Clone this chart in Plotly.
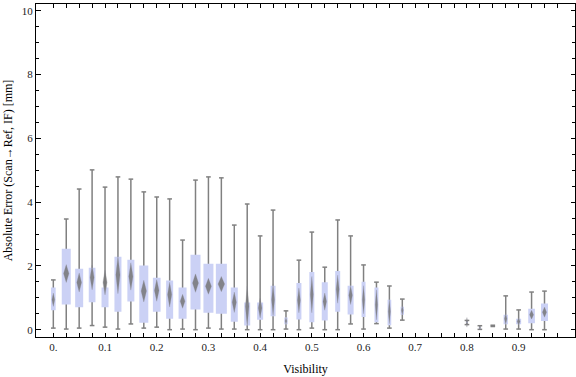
import plotly.graph_objects as go

# ---- data (visibility bins) ----
visibility = [0.0, 0.025, 0.05, 0.075, 0.1, 0.125, 0.15, 0.175, 0.2, 0.225,
              0.25, 0.275, 0.3, 0.325, 0.35, 0.375, 0.4, 0.425, 0.45, 0.475,
              0.5, 0.525, 0.55, 0.575, 0.6, 0.625, 0.65, 0.675,
              0.8, 0.825, 0.85, 0.875, 0.9, 0.925, 0.95]
whisker_low = [0.05, 0.02, 0.05, 0.13, 0.08, 0.02, 0.18, 0.05, 0.08, 0.00,
               0.02, 0.00, 0.05, 0.02, 0.02, 0.00, 0.00, 0.00, 0.02, 0.00,
               0.05, 0.00, 0.00, 0.18, 0.02, 0.19, 0.05, 0.30,
               0.16, 0.01, 0.10, 0.02, 0.02, 0.00, 0.00]
q1 = [0.61, 0.79, 0.70, 0.86, 0.70, 0.56, 0.88, 0.22, 0.56, 0.34,
      0.34, 0.63, 0.53, 0.50, 0.25, 0.13, 0.31, 0.42, 0.17, 0.32,
      0.23, 0.29, 0.56, 0.48, 0.40, 0.23, 0.14, 0.47,
      0.21, 0.04, 0.11, 0.17, 0.17, 0.20, 0.27]
q3 = [1.32, 2.54, 1.91, 1.94, 1.32, 2.29, 2.19, 2.01, 1.63, 1.54,
      1.32, 2.35, 2.07, 2.07, 1.32, 0.85, 0.85, 1.38, 0.38, 1.46,
      1.81, 1.49, 1.84, 1.38, 1.50, 1.32, 0.94, 0.72,
      0.25, 0.08, 0.13, 0.47, 0.34, 0.66, 0.82]
whisker_high = [1.56, 3.47, 4.41, 5.01, 4.47, 4.79, 4.72, 4.32, 4.16, 4.10,
                2.81, 4.69, 4.79, 4.76, 3.28, 3.94, 2.94, 3.75, 0.59, 2.18,
                3.06, 1.96, 3.44, 2.94, 2.03, 1.49, 1.37, 0.96,
                0.29, 0.125, 0.14, 1.06, 0.62, 1.18, 1.21]
mean = [0.94, 1.76, 1.48, 1.64, 1.48, 1.72, 1.67, 1.21, 1.23, 1.10,
        0.89, 1.46, 1.36, 1.43, 0.86, 0.73, 0.68, 0.94, 0.27, 0.92,
        1.10, 0.88, 1.27, 1.08, 0.94, 0.78, 0.57, 0.61,
        0.23, 0.06, 0.12, 0.34, 0.26, 0.47, 0.55]
mean_ci = [0.21, 0.28, 0.30, 0.39, 0.39, 0.59, 0.43, 0.34, 0.34, 0.39,
           0.22, 0.29, 0.25, 0.24, 0.32, 0.63, 0.31, 0.50, 0.10, 0.39,
           0.57, 0.27, 0.44, 0.29, 0.44, 0.47, 0.38, 0.15,
           0.15, 0.05, 0.02, 0.17, 0.11, 0.14, 0.16]
rel_width = [4.7, 9, 8, 6.7, 7, 7, 7, 9, 7.7, 7,
             8, 10, 10, 11, 7, 6, 6, 5, 3.3, 5,
             5, 6, 5, 6, 4, 4, 3.7, 3.3,
             2, 2, 2, 4.3, 5, 6.7, 7]

x_tick_vals = [0.0, 0.1, 0.2, 0.3, 0.4, 0.5, 0.6, 0.7, 0.8, 0.9]
x_tick_text = ["0.", "0.1", "0.2", "0.3", "0.4", "0.5", "0.6", "0.7", "0.8", "0.9"]
y_tick_vals = [0, 2, 4, 6, 8, 10]

WIDTH_UNIT = 1 / 517.0   # data units per relative width unit
CAP_HALF = 0.0045

wx, wy, cx, cy, bx, by, dx, dy = [], [], [], [], [], [], [], []
for i, v in enumerate(visibility):
    wx += [v, v, None]
    wy += [whisker_low[i], whisker_high[i], None]
    for yv in (whisker_low[i], whisker_high[i]):
        cx += [v - CAP_HALF, v + CAP_HALF, None]
        cy += [yv, yv, None]
    hw = rel_width[i] * WIDTH_UNIT / 2
    bx += [v - hw, v + hw, v + hw, v - hw, v - hw, None]
    by += [q1[i], q1[i], q3[i], q3[i], q1[i], None]
    dw = hw * 0.6
    dx += [v - dw, v, v + dw, v, v - dw, None]
    dy += [mean[i], mean[i] + mean_ci[i], mean[i], mean[i] - mean_ci[i], mean[i], None]

fig = go.Figure()
fig.add_trace(go.Scatter(x=wx, y=wy, mode="lines", line=dict(color="#808080", width=1.5),
                         hoverinfo="skip", showlegend=False))
fig.add_trace(go.Scatter(x=cx, y=cy, mode="lines", line=dict(color="#808080", width=1.5),
                         hoverinfo="skip", showlegend=False))
fig.add_trace(go.Scatter(x=bx, y=by, mode="lines", fill="toself", fillcolor="#cbd1f5",
                         line=dict(width=0, color="#cbd1f5"), hoverinfo="skip", showlegend=False))
fig.add_trace(go.Scatter(x=dx, y=dy, mode="lines", fill="toself", fillcolor="rgba(118,118,118,0.85)",
                         line=dict(width=0.6, color="rgba(140,140,150,0.45)"), hoverinfo="skip",
                         showlegend=False))

serif = "Liberation Serif, Times New Roman, serif"
minor_x = [round(k * 0.025, 3) for k in range(40)]

fig.update_layout(
    width=576, height=377,
    margin=dict(l=36, r=1, t=4, b=40),
    paper_bgcolor="white", plot_bgcolor="white",
    font=dict(family=serif, size=11, color="black"),
    xaxis=dict(range=[-0.0335, 1.009], showgrid=False, zeroline=False, automargin=False,
               showline=True, linecolor="black", linewidth=1, mirror="allticks",
               ticks="inside", ticklen=4, tickcolor="black",
               tickmode="array", tickvals=x_tick_vals, ticktext=x_tick_text,
               minor=dict(tickmode="array", tickvals=minor_x, ticks="inside", ticklen=4,
                          tickcolor="black", showgrid=False),
               tickfont=dict(family=serif, size=11, color="#222"),
               title=dict(text="Visibility", font=dict(family=serif, size=12, color="black"),
                          standoff=12)),
    yaxis=dict(range=[-0.229, 10.21], showgrid=False, zeroline=False, automargin=False,
               showline=True, linecolor="black", linewidth=1, mirror="allticks",
               ticks="inside", ticklen=4.5, tickcolor="black",
               tickmode="array", tickvals=y_tick_vals,
               minor=dict(dtick=0.5, tick0=0, ticks="inside", ticklen=3,
                          tickcolor="black", showgrid=False),
               tickfont=dict(family=serif, size=11, color="#222"),
               title=dict(text="Absolute Error (Scan\u2192Ref, IF) [mm]",
                          font=dict(family=serif, size=12, color="black"), standoff=6)),
)

fig.write_html("out.html", config={"displayModeBar": False},
               post_script="document.body.style.margin='0';document.body.style.overflow='hidden';")
